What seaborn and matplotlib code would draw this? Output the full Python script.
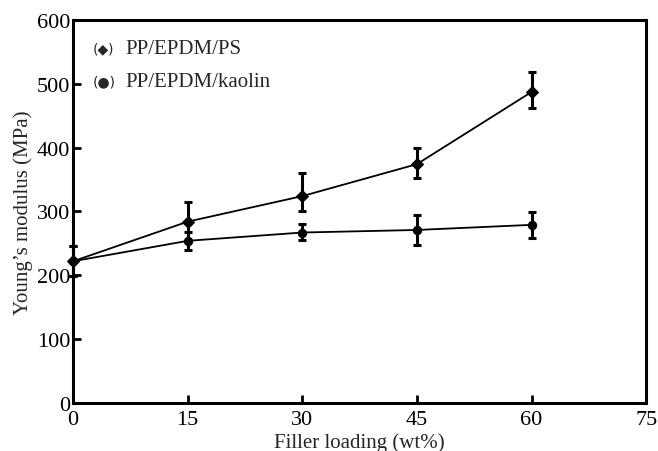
import pandas as pd
import numpy as np
import matplotlib
matplotlib.use('Agg')
import matplotlib.pyplot as plt
import seaborn as sns

loading = [0, 15, 30, 45, 60]
ps_modulus = [222, 284, 324, 374, 487]
ps_err_low = [23, 30, 24, 22, 25]
ps_err_high = [24, 30, 36, 26, 31]
kaolin_modulus = [222, 254, 267, 271, 279]
kaolin_err_low = [23, 15, 12, 23, 20]
kaolin_err_high = [24, 14, 13, 23, 20]
series_names = ['PP/EPDM/PS', 'PP/EPDM/kaolin']

sns.set_style('ticks')
plt.rcParams['font.family'] = ['Liberation Serif', 'DejaVu Sans']

df = pd.DataFrame({
    'loading': loading * 2,
    'modulus': ps_modulus + kaolin_modulus,
    'series': [series_names[0]] * 5 + [series_names[1]] * 5,
})

fig = plt.figure(figsize=(6.58, 4.52), dpi=100)
ax = fig.add_axes([0.111, 0.106, 0.871, 0.848])

sns.lineplot(data=df, x='loading', y='modulus', hue='series', style='series',
             markers={series_names[0]: 'D', series_names[1]: 'o'}, dashes=False,
             palette=['black', 'black'], linewidth=1.3, markersize=6,
             markeredgecolor='black', legend=False, ax=ax)
for ln in ax.lines:
    ln.set_clip_on(False)

for vals, lo, hi in [(ps_modulus, ps_err_low, ps_err_high),
                     (kaolin_modulus, kaolin_err_low, kaolin_err_high)]:
    eb = ax.errorbar(loading, vals, yerr=[lo, hi], fmt='none',
                     ecolor='black', elinewidth=2.2, capsize=3, capthick=2.2)
    for part in eb.lines[1] + eb.lines[2]:
        part.set_clip_on(False)

ax.set_xlim(0, 75)
ax.set_ylim(0, 600)
ax.set_xticks(np.arange(0, 76, 15))
ax.set_yticks(np.arange(0, 601, 100))
ax.tick_params(direction='in', length=6, width=2, labelsize=16, colors='black')
ax.tick_params(axis='x', pad=5)
ax.tick_params(axis='y', pad=2)
for s in ax.spines.values():
    s.set_linewidth(2.2)
    s.set_color('black')

ax.set_xlabel('Filler loading (wt%)', fontsize=15, labelpad=2)
ax.set_ylabel('Young\u2019s modulus (MPa)', fontsize=15, labelpad=3)

# legend written as text, like the original figure
ax.text(0.035, 0.925, '(\u25c6)', transform=ax.transAxes, fontsize=10,
        va='center', ha='left', family=['DejaVu Sans'])
ax.text(0.091, 0.925, series_names[0], transform=ax.transAxes, fontsize=15,
        va='center', ha='left')
ax.text(0.035, 0.84, '(\u25cf)', transform=ax.transAxes, fontsize=10,
        va='center', ha='left', family=['DejaVu Sans'])
ax.text(0.091, 0.84, series_names[1], transform=ax.transAxes, fontsize=15,
        va='center', ha='left')

fig.savefig('out.png', dpi=100)
